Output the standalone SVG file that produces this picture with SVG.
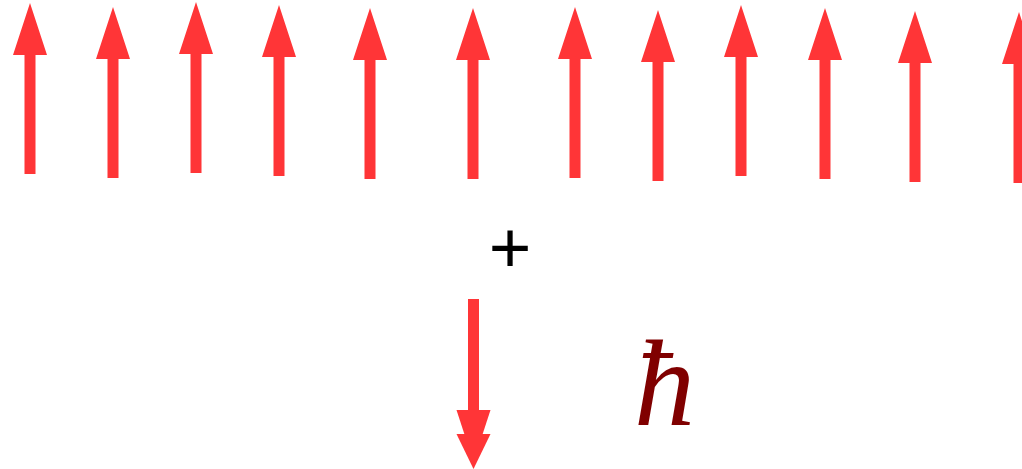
<svg xmlns="http://www.w3.org/2000/svg" xmlns:xlink="http://www.w3.org/1999/xlink" width="1022" height="469" viewBox="0 0 1022 469">
<style>
.arr{fill:#ff3537}
.plus{font-family:"Liberation Sans",Arial,sans-serif;font-size:73px;fill:#000}
.hbar{font-family:"Liberation Serif","Times New Roman",serif;font-style:italic;font-size:122px;fill:#800000}
</style>
<defs>
<path id="up" class="arr" d="M0,0 L17,52 L5.5,52 L5.5,171 L-5.5,171 L-5.5,52 L-17,52 Z"/>
</defs>
<rect width="1022" height="469" fill="#fff"/>
<g id="spins-up">
<use xlink:href="#up" href="#up" transform="translate(30,3)"/>
<use xlink:href="#up" href="#up" transform="translate(113,7)"/>
<use xlink:href="#up" href="#up" transform="translate(196,2)"/>
<use xlink:href="#up" href="#up" transform="translate(279,5)"/>
<use xlink:href="#up" href="#up" transform="translate(370,8)"/>
<use xlink:href="#up" href="#up" transform="translate(473,8)"/>
<use xlink:href="#up" href="#up" transform="translate(575,7)"/>
<use xlink:href="#up" href="#up" transform="translate(658,10)"/>
<use xlink:href="#up" href="#up" transform="translate(741,5)"/>
<use xlink:href="#up" href="#up" transform="translate(825,8)"/>
<use xlink:href="#up" href="#up" transform="translate(915,11)"/>
<use xlink:href="#up" href="#up" transform="translate(1019,12)"/>
</g>
<g id="plus-sign">
<text class="plus" x="510" y="272" text-anchor="middle">+</text>
</g>
<g id="spin-down">
<rect class="arr" x="468" y="299" width="11" height="113"/>
<path class="arr" d="M456.5,410 L490.5,410 L473.5,462 Z"/>
<path class="arr" d="M456.5,434 L490.5,434 L473.5,469 Z"/>
</g>
<g id="hbar-label">
<text class="hbar" x="634" y="425">ħ</text>
</g>
</svg>
